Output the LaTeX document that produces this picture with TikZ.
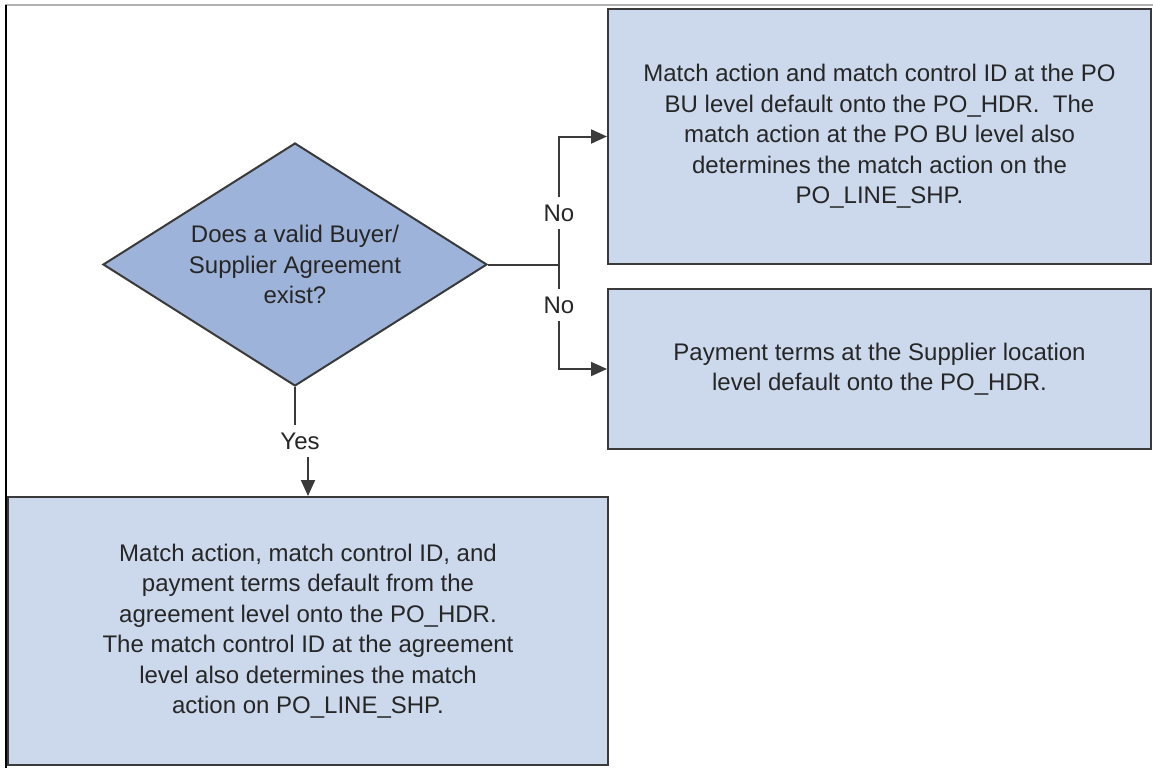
\documentclass[tikz,border=0pt]{standalone}
\usepackage{fontspec}
\setmainfont{Liberation Sans}
\usetikzlibrary{shapes.geometric,arrows.meta}
\definecolor{boxfill}{RGB}{204,217,236}
\definecolor{decfill}{RGB}{158,179,217}
\definecolor{edge}{RGB}{58,58,58}
\begin{document}
\begin{tikzpicture}[x=1pt,y=-1pt,
    every node/.style={font=\fontsize{24}{30.5}\selectfont, text=black!85},
    infobox/.style={draw=edge, line width=2pt, fill=boxfill, align=center, inner sep=0pt},
    decision/.style={diamond, aspect=1.6, draw=edge, line width=2pt, fill=decfill, align=center,
      inner sep=0pt, minimum width=384pt, minimum height=243pt},
    answer/.style={inner sep=7pt},
    flow/.style={draw=edge, line width=2pt},
    arr/.style={flow, -{Triangle[length=16pt,width=14pt]}}]
    \useasboundingbox (0,0) rectangle (1153,768);
    % frame of the page
    \draw[gray!60, line width=1.5pt] (5,5) -- (1153,5);
    \draw[black, line width=2pt] (6,5) -- (6,768);
    % question and outcomes
    \node[decision] (agreement) at (295,264.5) {Does a valid Buyer/\\Supplier Agreement\\exist?};
    \node[infobox, minimum width=543pt, minimum height=255pt] (bulevel) at (879.5,136.5)
      {Match action and match control ID at the PO\\BU level default onto the PO\_HDR.~ The\\match action at the PO BU level also\\determines the match action on the\\PO\_LINE\_SHP.};
    \node[infobox, minimum width=543pt, minimum height=160pt] (supplier) at (879.5,369)
      {Payment terms at the Supplier location\\level default onto the PO\_HDR.};
    \node[infobox, minimum width=600pt, minimum height=268pt] (agrlevel) at (308,631)
      {Match action, match control ID, and\\payment terms default from the\\agreement level onto the PO\_HDR.\\The match control ID at the agreement\\level also determines the match\\action on PO\_LINE\_SHP.};
    % answers
    \coordinate (fork) at (559,264.5);
    \node[answer] (nobu) at (559,213) {No};
    \node[answer] (nosup) at (559,305) {No};
    \node[answer] (yes) at (300,441) {Yes};
    \draw[flow] (agreement.east) -- (fork) -- (nobu.south);
    \draw[arr] (nobu.north) |- (bulevel.west);
    \draw[flow] (fork) -- (nosup.north);
    \draw[arr] (nosup.south) |- (supplier.west);
    \draw[flow] (agreement.south) -- (agreement.south |- yes.north);
    \draw[arr] (agrlevel.north |- yes.south) -- (agrlevel.north);
\end{tikzpicture}
\end{document}
